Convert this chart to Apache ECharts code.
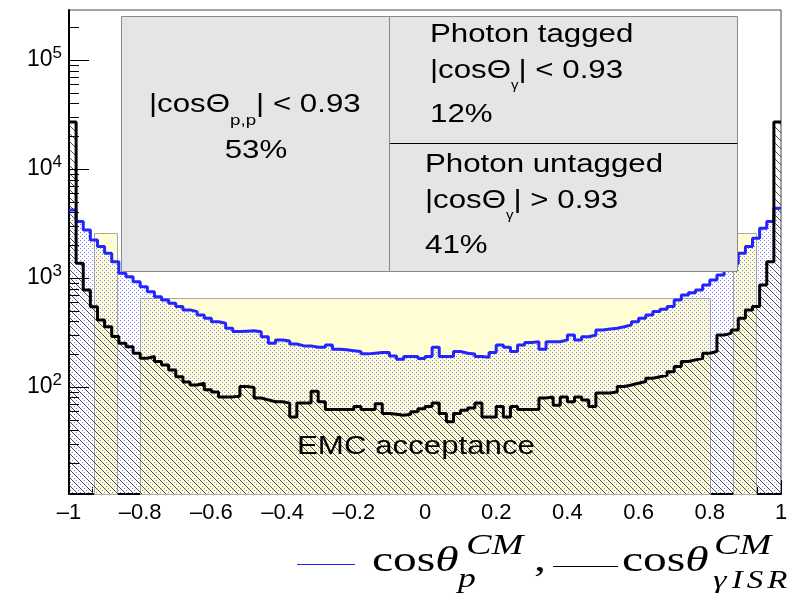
<!DOCTYPE html>
<html>
<head>
<meta charset="utf-8">
<script src="https://cdn.jsdelivr.net/npm/echarts@6/dist/echarts.min.js"></script>
<style>
  html, body { margin: 0; padding: 0; background: #ffffff; }
  #chart { width: 802px; height: 593px; }
</style>
</head>
<body>
<div id="chart"></div>
<script>
// Histogram binning: 100 bins over cos(theta) in [-1, 1]
const binLow = -1;
const binHigh = 1;
const nBins = 100;

// Proton polar angle, cos(theta_p) in CM frame (blue, dotted fill)
const protonCos = [
  4210, 3290, 2755, 2230, 1940, 1683, 1411, 1104, 1028, 925,
  832, 749, 673, 628, 586, 546, 509, 491, 458, 427,
  397, 384, 345, 322, 325, 327, 321, 289, 251, 270,
  264, 248, 238, 238, 231, 231, 243, 222, 219, 215,
  211, 201, 204, 207, 207, 192, 179, 190, 190, 182,
  190, 231, 190, 190, 211, 204, 200, 190, 187, 207,
  243, 231, 211, 243, 255, 260, 222, 260, 260, 270,
  300, 270, 289, 300, 333, 340, 345, 357, 371, 397,
  427, 458, 491, 516, 546, 628, 698, 733, 776, 863,
  959, 1065, 1184, 1350, 1683, 1940, 2315, 2855, 3290, 4370
];

// ISR photon polar angle, cos(theta_gamma) in CM frame (black, hatched fill)
const photonCos = [
  27000, 1365, 776, 545, 412, 357, 290, 251, 234, 204,
  183, 190, 171, 159, 143, 124, 111, 104, 108, 94,
  90, 81, 81, 82, 101, 99, 79, 76, 73, 73,
  71, 53, 71, 71, 91, 73, 62, 62, 62, 62,
  66, 62, 62, 70, 57, 56, 55, 56, 59, 63,
  66, 71, 57, 48, 57, 61, 64, 71, 53, 53,
  66, 53, 66, 62, 62, 62, 79, 81, 68, 81,
  73, 81, 76, 66, 88, 88, 90, 101, 104, 108,
  112, 120, 124, 128, 138, 154, 171, 177, 183, 204,
  211, 300, 310, 333, 427, 509, 546, 863, 1411, 27000
];

// EMC acceptance regions (endcaps and barrel)
const emcLo = [-0.93, -0.8, 0.865];
const emcHi = [-0.865, 0.8, 0.93];
const emcTop = [2600, 650, 2600];

// Axis ranges
const yMin = 10.4;
const yMax = 2.88e5;

const SANS = 'Liberation Sans, Arial, Helvetica, sans-serif';
const SERIF = 'Liberation Serif, DejaVu Serif, Times New Roman, serif';

const binWidth = (binHigh - binLow) / nBins;
function stepData(values) {
  const pts = values.map((v, i) => [binLow + i * binWidth, v]);
  pts.push([binHigh, values[values.length - 1]]);
  return pts;
}

// Fill patterns
function dotPattern() {
  const c = document.createElement('canvas');
  c.width = 4; c.height = 4;
  const g = c.getContext('2d');
  g.fillStyle = '#7f7fff';
  g.fillRect(0, 0, 1, 1);
  g.fillRect(2, 2, 1, 1);
  return c;
}
function hatchPattern() {
  const s = 8;
  const c = document.createElement('canvas');
  c.width = s; c.height = s;
  const g = c.getContext('2d');
  g.strokeStyle = '#3c3c3c';
  g.lineWidth = 0.9;
  for (const k of [-s, 0, s]) {
    g.beginPath();
    g.moveTo(k, 0);
    g.lineTo(k + s, s);
    g.stroke();
  }
  return c;
}

// Log-axis tick positions: 2..9 x 10^n minors, 10^n majors
const yTickVals = [];
for (let e = 1; e <= 5; e++) {
  for (let m = 1; m <= 9; m++) {
    const v = m * Math.pow(10, e);
    if (v >= yMin && v <= yMax) yTickVals.push(v);
  }
}
function isDecade(v) {
  const l = Math.log10(v);
  return Math.abs(l - Math.round(l)) < 1e-6;
}

const chart = echarts.init(document.getElementById('chart'), null, { renderer: 'canvas' });

const option = {
  animation: false,
  backgroundColor: '#ffffff',
  grid: {
    left: 69, right: 21, top: 10, bottom: 99,
    show: true, borderColor: '#444444', borderWidth: 1, backgroundColor: 'transparent'
  },
  xAxis: {
    type: 'value',
    min: binLow, max: binHigh, interval: 0.2,
    axisLine: { onZero: false, lineStyle: { color: '#000', width: 2 } },
    axisTick: { inside: true, length: 14, lineStyle: { color: '#000', width: 1 } },
    minorTick: { show: true, splitNumber: 3, length: 7, lineStyle: { color: '#000', width: 1 } },
    splitLine: { show: false },
    axisLabel: {
      margin: 8, fontSize: 22, fontFamily: SANS, color: '#000',
      showMinLabel: true, showMaxLabel: true, hideOverlap: false,
      formatter: v => (Math.abs(v) < 1e-9 ? '0' : String(+v.toFixed(1)).replace('-', '\u2013'))
    }
  },
  yAxis: {
    type: 'log', logBase: 10,
    min: yMin, max: yMax,
    axisLine: { onZero: false, lineStyle: { color: '#000', width: 2 } },
    axisTick: { show: false },
    splitLine: { show: false },
    axisLabel: {
      margin: 7, color: '#000',
      formatter: v => isDecade(v) ? '{b|10}{e|' + Math.round(Math.log10(v)) + '}' : '',
      rich: {
        b: { fontSize: 23, fontFamily: SANS, color: '#000' },
        e: { fontSize: 17, fontFamily: SANS, color: '#000', padding: [0, 0, 14, 0] }
      }
    }
  },
  series: [
    {
      // EMC acceptance bands
      type: 'custom',
      name: 'EMC acceptance',
      z: 1,
      silent: true,
      encode: { x: [0, 1], y: 2 },
      data: emcLo.map((lo, i) => [lo, emcHi[i], emcTop[i]]),
      renderItem: (params, api) => {
        const tl = api.coord([api.value(0), api.value(2)]);
        const br = api.coord([api.value(1), yMin]);
        return {
          type: 'rect',
          shape: { x: Math.round(tl[0]) + 0.5, y: Math.round(tl[1]) + 0.5,
                   width: Math.round(br[0] - tl[0]), height: Math.round(br[1] - tl[1]) },
          style: { fill: '#fffdd4', stroke: '#a9a9a9', lineWidth: 1 }
        };
      }
    },
    {
      type: 'line',
      name: 'cos theta p',
      z: 2,
      step: 'end',
      symbol: 'none',
      silent: true,
      data: stepData(protonCos),
      lineStyle: { color: '#2424ff', width: 3 },
      areaStyle: { origin: 'start', opacity: 1, color: { image: dotPattern(), repeat: 'repeat' } }
    },
    {
      type: 'line',
      name: 'cos theta gamma ISR',
      z: 3,
      step: 'end',
      symbol: 'none',
      silent: true,
      data: stepData(photonCos),
      lineStyle: { color: '#000000', width: 3 },
      areaStyle: { origin: 'start', opacity: 1, color: { image: hatchPattern(), repeat: 'repeat' } }
    },
    {
      // Y axis ticks on the inner side of the frame
      type: 'custom',
      name: 'y ticks',
      z: 5,
      silent: true,
      data: yTickVals.map(v => [binLow, v]),
      renderItem: (params, api) => {
        const v = api.value(1);
        const p = api.coord([binLow, v]);
        const len = isDecade(v) ? 20 : 10;
        const y = Math.round(p[1]) + 0.5;
        return {
          type: 'line',
          shape: { x1: p[0], y1: y, x2: p[0] + len, y2: y },
          style: { stroke: '#000', lineWidth: 1 }
        };
      }
    }
  ],
  graphic: [
    // Selection summary boxes
    { type: 'rect', z: 100, shape: { x: 121.5, y: 16.5, width: 268, height: 255 },
      style: { fill: '#e5e5e5', stroke: '#8a8a8a', lineWidth: 1 } },
    { type: 'rect', z: 100, shape: { x: 389.5, y: 16.5, width: 348, height: 255 },
      style: { fill: '#e5e5e5', stroke: '#8a8a8a', lineWidth: 1 } },
    { type: 'line', z: 101, shape: { x1: 390, y1: 143.5, x2: 737.5, y2: 143.5 },
      style: { stroke: '#000', lineWidth: 1 } },

    { type: 'text', z: 102, x: 149, y: 105, scaleX: 1.25,
      style: {
        text: '{m||cosΘ}{s|p,p}{m|| < 0.93}',
        verticalAlign: 'middle',
        rich: {
          m: { fontSize: 25, fontFamily: SANS, fill: '#000' },
          s: { fontSize: 15, fontFamily: SANS, fill: '#000', padding: [32, 0, 0, 0] }
        }
      } },
    { type: 'text', z: 102, x: 256, y: 151, scaleX: 1.25,
      style: { text: '53%', fontSize: 25, fontFamily: SANS, fill: '#000', align: 'center', verticalAlign: 'middle' } },

    { type: 'text', z: 102, x: 430, y: 35, scaleX: 1.25,
      style: { text: 'Photon tagged', fontSize: 25, fontFamily: SANS, fill: '#000', verticalAlign: 'middle' } },
    { type: 'text', z: 102, x: 430, y: 71, scaleX: 1.25,
      style: {
        text: '{m||cosΘ}{s|γ}{m|| < 0.93}',
        verticalAlign: 'middle',
        rich: {
          m: { fontSize: 25, fontFamily: SANS, fill: '#000' },
          s: { fontSize: 12, fontFamily: SANS, fill: '#000', padding: [30, 0, 0, 0] }
        }
      } },
    { type: 'text', z: 102, x: 430, y: 115, scaleX: 1.25,
      style: { text: '12%', fontSize: 25, fontFamily: SANS, fill: '#000', verticalAlign: 'middle' } },

    { type: 'text', z: 102, x: 425, y: 165, scaleX: 1.25,
      style: { text: 'Photon untagged', fontSize: 25, fontFamily: SANS, fill: '#000', verticalAlign: 'middle' } },
    { type: 'text', z: 102, x: 425, y: 201, scaleX: 1.25,
      style: {
        text: '{m||cosΘ}{s|γ}{m|| > 0.93}',
        verticalAlign: 'middle',
        rich: {
          m: { fontSize: 25, fontFamily: SANS, fill: '#000' },
          s: { fontSize: 12, fontFamily: SANS, fill: '#000', padding: [30, 0, 0, 0] }
        }
      } },
    { type: 'text', z: 102, x: 425, y: 246, scaleX: 1.25,
      style: { text: '41%', fontSize: 25, fontFamily: SANS, fill: '#000', verticalAlign: 'middle' } },

    { type: 'text', z: 102, x: 297, y: 447, scaleX: 1.25,
      style: { text: 'EMC acceptance', fontSize: 25, fontFamily: SANS, fill: '#000', verticalAlign: 'middle' } },

    // Axis title: line keys and labels
    { type: 'line', z: 102, shape: { x1: 297, y1: 564.5, x2: 355, y2: 564.5 },
      style: { stroke: '#2424ff', lineWidth: 1.2 } },
    { type: 'text', z: 102, x: 372, y: 562, scaleX: 1.32,
      style: {
        text: '{r|cos}{i|θ}',
        verticalAlign: 'middle',
        rich: {
          r: { fontSize: 36, fontFamily: SERIF, fill: '#000' },
          i: { fontSize: 36, fontFamily: SERIF, fontStyle: 'italic', fill: '#000' }
        }
      } },
    { type: 'text', z: 102, x: 466, y: 546, scaleX: 1.32,
      style: { text: 'CM', fontSize: 29, fontFamily: SERIF, fontStyle: 'italic', fill: '#000', verticalAlign: 'middle' } },
    { type: 'text', z: 102, x: 458, y: 580, scaleX: 1.32,
      style: { text: 'p', fontSize: 27, fontFamily: SERIF, fontStyle: 'italic', fill: '#000', verticalAlign: 'middle' } },
    { type: 'text', z: 102, x: 534, y: 562, scaleX: 1.32,
      style: { text: ',', fontSize: 36, fontFamily: SERIF, fill: '#000', verticalAlign: 'middle' } },
    { type: 'line', z: 102, shape: { x1: 553, y1: 566.5, x2: 618, y2: 566.5 },
      style: { stroke: '#000', lineWidth: 1.2 } },
    { type: 'text', z: 102, x: 622, y: 562, scaleX: 1.32,
      style: {
        text: '{r|cos}{i|θ}',
        verticalAlign: 'middle',
        rich: {
          r: { fontSize: 36, fontFamily: SERIF, fill: '#000' },
          i: { fontSize: 36, fontFamily: SERIF, fontStyle: 'italic', fill: '#000' }
        }
      } },
    { type: 'text', z: 102, x: 714, y: 546, scaleX: 1.32,
      style: { text: 'CM', fontSize: 29, fontFamily: SERIF, fontStyle: 'italic', fill: '#000', verticalAlign: 'middle' } },
    { type: 'text', z: 102, x: 713, y: 581, scaleX: 1.32,
      style: {
        text: '{g|γ}{c|I}{c|S}{c|R}',
        verticalAlign: 'middle',
        rich: {
          g: { fontSize: 26, fontFamily: SERIF, fontStyle: 'italic', fill: '#000', padding: [0, 4, 0, 0] },
          c: { fontSize: 25, fontFamily: SERIF, fontStyle: 'italic', fill: '#000', padding: [0, 3, 0, 0] }
        }
      } }
  ]
};

chart.setOption(option);
</script>
</body>
</html>
